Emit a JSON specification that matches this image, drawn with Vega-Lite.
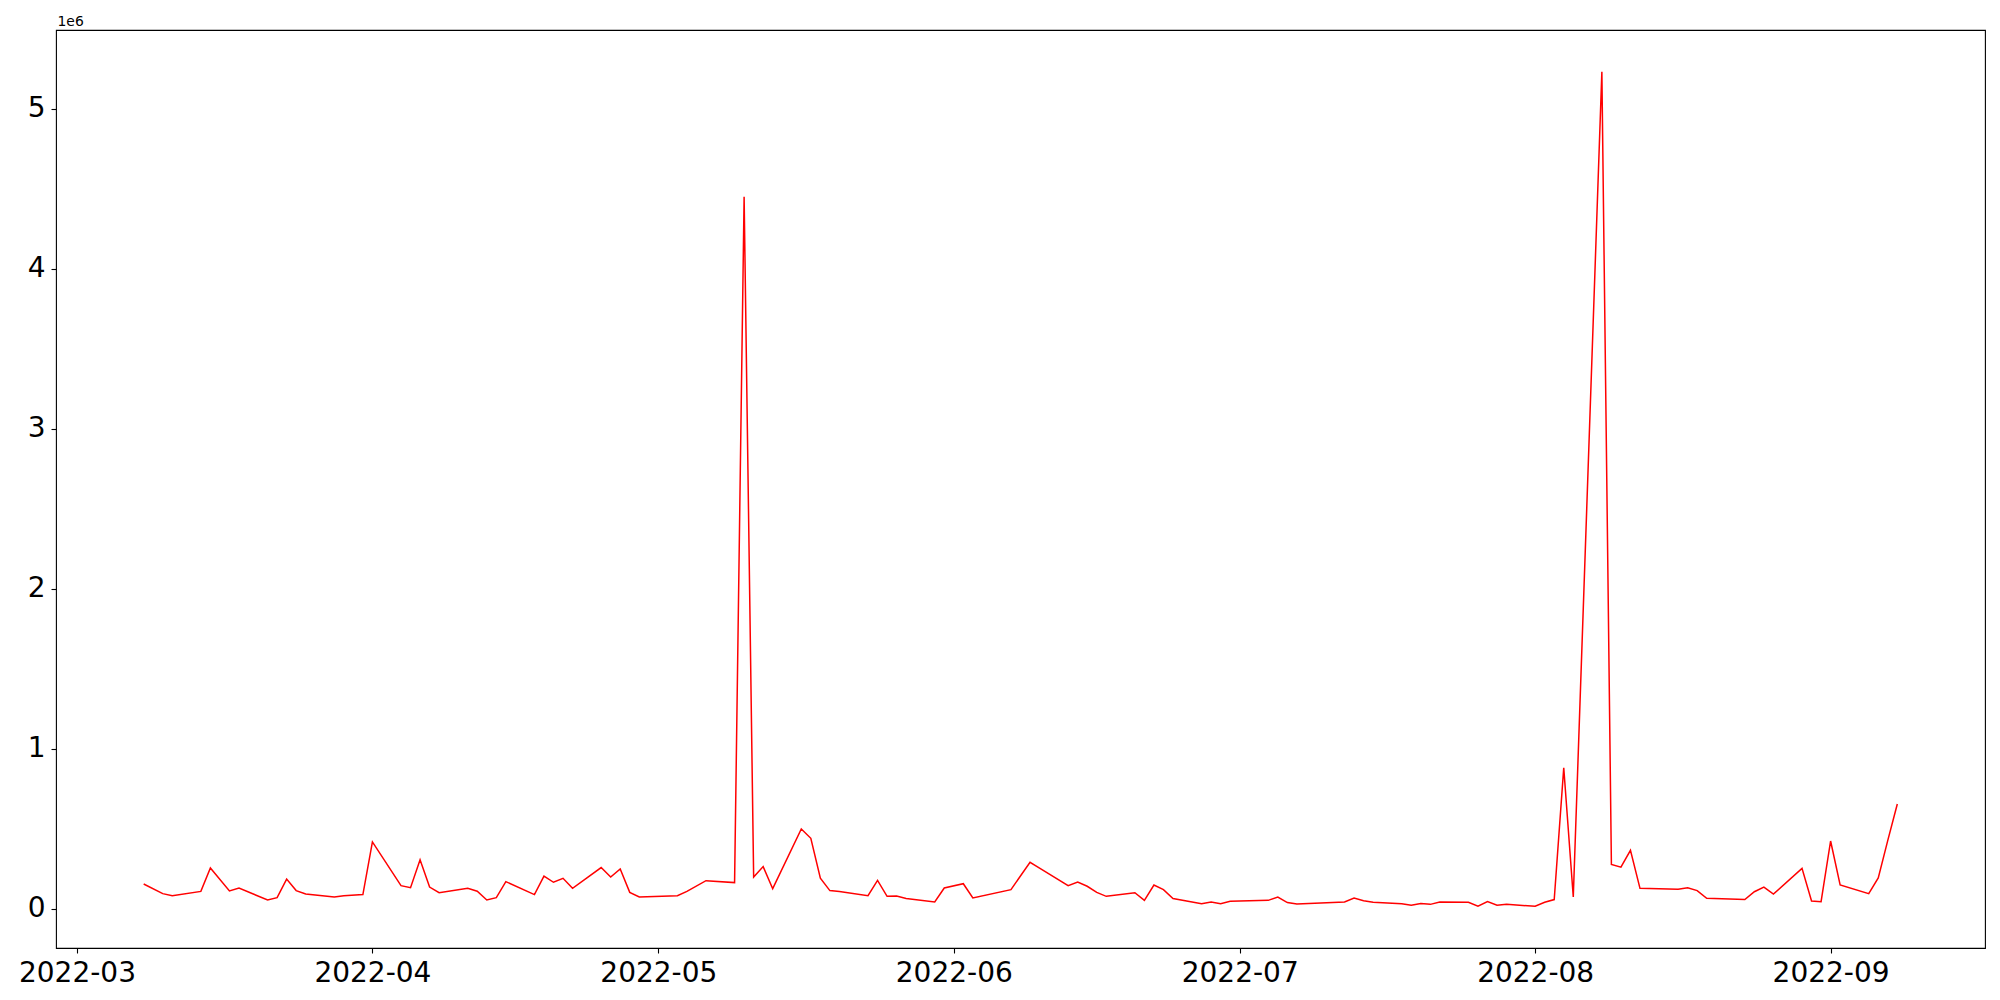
{
  "$schema": "https://vega.github.io/schema/vega-lite/v6.json",
  "autosize": {"type": "none"},
  "padding": {"left": 56, "top": 30, "right": 15, "bottom": 52},
  "width": 1929,
  "height": 918,
  "background": "white",
  "config": {
    "view": {"stroke": "black", "strokeWidth": 1.1},
    "font": "DejaVu Sans"
  },
  "data": {
    "values": [
      {"date": "2022-03-08", "value": 153000},
      {"date": "2022-03-10", "value": 93000},
      {"date": "2022-03-11", "value": 80000},
      {"date": "2022-03-14", "value": 107000},
      {"date": "2022-03-15", "value": 253000},
      {"date": "2022-03-17", "value": 110000},
      {"date": "2022-03-18", "value": 128000},
      {"date": "2022-03-21", "value": 53000},
      {"date": "2022-03-22", "value": 68000},
      {"date": "2022-03-23", "value": 184000},
      {"date": "2022-03-24", "value": 112000},
      {"date": "2022-03-25", "value": 91000},
      {"date": "2022-03-28", "value": 72000},
      {"date": "2022-03-29", "value": 80000},
      {"date": "2022-03-31", "value": 87000},
      {"date": "2022-04-01", "value": 416000},
      {"date": "2022-04-04", "value": 143000},
      {"date": "2022-04-05", "value": 130000},
      {"date": "2022-04-06", "value": 305000},
      {"date": "2022-04-07", "value": 134000},
      {"date": "2022-04-08", "value": 99000},
      {"date": "2022-04-11", "value": 126000},
      {"date": "2022-04-12", "value": 108000},
      {"date": "2022-04-13", "value": 53000},
      {"date": "2022-04-14", "value": 68000},
      {"date": "2022-04-15", "value": 168000},
      {"date": "2022-04-18", "value": 87000},
      {"date": "2022-04-19", "value": 203000},
      {"date": "2022-04-20", "value": 164000},
      {"date": "2022-04-21", "value": 189000},
      {"date": "2022-04-22", "value": 126000},
      {"date": "2022-04-25", "value": 256000},
      {"date": "2022-04-26", "value": 197000},
      {"date": "2022-04-27", "value": 247000},
      {"date": "2022-04-28", "value": 101000},
      {"date": "2022-04-29", "value": 72000},
      {"date": "2022-05-03", "value": 80000},
      {"date": "2022-05-04", "value": 107000},
      {"date": "2022-05-06", "value": 174000},
      {"date": "2022-05-09", "value": 162000},
      {"date": "2022-05-10", "value": 4449000},
      {"date": "2022-05-11", "value": 197000},
      {"date": "2022-05-12", "value": 262000},
      {"date": "2022-05-13", "value": 124000},
      {"date": "2022-05-16", "value": 497000},
      {"date": "2022-05-17", "value": 439000},
      {"date": "2022-05-18", "value": 189000},
      {"date": "2022-05-19", "value": 112000},
      {"date": "2022-05-20", "value": 107000},
      {"date": "2022-05-23", "value": 80000},
      {"date": "2022-05-24", "value": 176000},
      {"date": "2022-05-25", "value": 76000},
      {"date": "2022-05-26", "value": 78000},
      {"date": "2022-05-27", "value": 62000},
      {"date": "2022-05-30", "value": 41000},
      {"date": "2022-05-31", "value": 128000},
      {"date": "2022-06-02", "value": 155000},
      {"date": "2022-06-03", "value": 66000},
      {"date": "2022-06-07", "value": 118000},
      {"date": "2022-06-09", "value": 289000},
      {"date": "2022-06-10", "value": 253000},
      {"date": "2022-06-13", "value": 143000},
      {"date": "2022-06-14", "value": 166000},
      {"date": "2022-06-15", "value": 139000},
      {"date": "2022-06-16", "value": 101000},
      {"date": "2022-06-17", "value": 76000},
      {"date": "2022-06-20", "value": 99000},
      {"date": "2022-06-21", "value": 51000},
      {"date": "2022-06-22", "value": 147000},
      {"date": "2022-06-23", "value": 118000},
      {"date": "2022-06-24", "value": 62000},
      {"date": "2022-06-27", "value": 30000},
      {"date": "2022-06-28", "value": 41000},
      {"date": "2022-06-29", "value": 30000},
      {"date": "2022-06-30", "value": 45000},
      {"date": "2022-07-04", "value": 51000},
      {"date": "2022-07-05", "value": 72000},
      {"date": "2022-07-06", "value": 37000},
      {"date": "2022-07-07", "value": 28000},
      {"date": "2022-07-12", "value": 41000},
      {"date": "2022-07-13", "value": 66000},
      {"date": "2022-07-14", "value": 49000},
      {"date": "2022-07-15", "value": 39000},
      {"date": "2022-07-18", "value": 30000},
      {"date": "2022-07-19", "value": 20000},
      {"date": "2022-07-20", "value": 32000},
      {"date": "2022-07-21", "value": 26000},
      {"date": "2022-07-22", "value": 41000},
      {"date": "2022-07-25", "value": 39000},
      {"date": "2022-07-26", "value": 14000},
      {"date": "2022-07-27", "value": 43000},
      {"date": "2022-07-28", "value": 20000},
      {"date": "2022-07-29", "value": 26000},
      {"date": "2022-08-01", "value": 14000},
      {"date": "2022-08-02", "value": 39000},
      {"date": "2022-08-03", "value": 56000},
      {"date": "2022-08-04", "value": 880000},
      {"date": "2022-08-05", "value": 72000},
      {"date": "2022-08-08", "value": 5230000},
      {"date": "2022-08-09", "value": 276000},
      {"date": "2022-08-10", "value": 258000},
      {"date": "2022-08-11", "value": 364000},
      {"date": "2022-08-12", "value": 126000},
      {"date": "2022-08-16", "value": 120000},
      {"date": "2022-08-17", "value": 130000},
      {"date": "2022-08-18", "value": 112000},
      {"date": "2022-08-19", "value": 64000},
      {"date": "2022-08-23", "value": 56000},
      {"date": "2022-08-24", "value": 105000},
      {"date": "2022-08-25", "value": 134000},
      {"date": "2022-08-26", "value": 90000},
      {"date": "2022-08-29", "value": 251000},
      {"date": "2022-08-30", "value": 47000},
      {"date": "2022-08-31", "value": 43000},
      {"date": "2022-09-01", "value": 422000},
      {"date": "2022-09-02", "value": 147000},
      {"date": "2022-09-05", "value": 93000},
      {"date": "2022-09-06", "value": 191000},
      {"date": "2022-09-07", "value": 426000},
      {"date": "2022-09-08", "value": 653000}
    ]
  },
  "mark": {"type": "line", "color": "#ff0000", "strokeWidth": 1.5, "clip": true},
  "encoding": {
    "x": {
      "field": "date",
      "type": "temporal",
      "scale": {
        "type": "utc",
        "domain": [
          {"year": 2022, "month": 2, "date": 26, "hours": 19, "minutes": 12, "utc": true},
          {"year": 2022, "month": 9, "date": 17, "hours": 4, "minutes": 48, "utc": true}
        ]
      },
      "axis": {
        "title": null,
        "grid": false,
        "domain": false,
        "labelExpr": "utcFormat(datum.value, '%Y-%m')",
        "values": [
          {"year": 2022, "month": 3, "date": 1, "utc": true},
          {"year": 2022, "month": 4, "date": 1, "utc": true},
          {"year": 2022, "month": 5, "date": 1, "utc": true},
          {"year": 2022, "month": 6, "date": 1, "utc": true},
          {"year": 2022, "month": 7, "date": 1, "utc": true},
          {"year": 2022, "month": 8, "date": 1, "utc": true},
          {"year": 2022, "month": 9, "date": 1, "utc": true}
        ],
        "labelFont": "DejaVu Sans",
        "labelFontSize": 28,
        "labelColor": "black",
        "labelPadding": 6,
        "labelFlush": false,
        "labelOverlap": false,
        "tickColor": "black",
        "tickSize": 5,
        "tickWidth": 1.1
      }
    },
    "y": {
      "field": "value",
      "type": "quantitative",
      "scale": {"domain": [-246800, 5490800], "nice": false, "zero": false},
      "axis": {
        "title": "1e6",
        "titleAngle": 0,
        "titleX": 1,
        "titleY": -5,
        "titleAlign": "left",
        "titleBaseline": "alphabetic",
        "titleFont": "DejaVu Sans",
        "titleFontSize": 13.9,
        "titleFontWeight": "normal",
        "titleColor": "black",
        "grid": false,
        "domain": false,
        "values": [0, 1000000, 2000000, 3000000, 4000000, 5000000],
        "labelExpr": "format(datum.value / 1000000, 'd')",
        "labelFont": "DejaVu Sans",
        "labelFontSize": 28,
        "labelColor": "black",
        "labelPadding": 6,
        "tickColor": "black",
        "tickSize": 5,
        "tickWidth": 1.1
      }
    }
  }
}
